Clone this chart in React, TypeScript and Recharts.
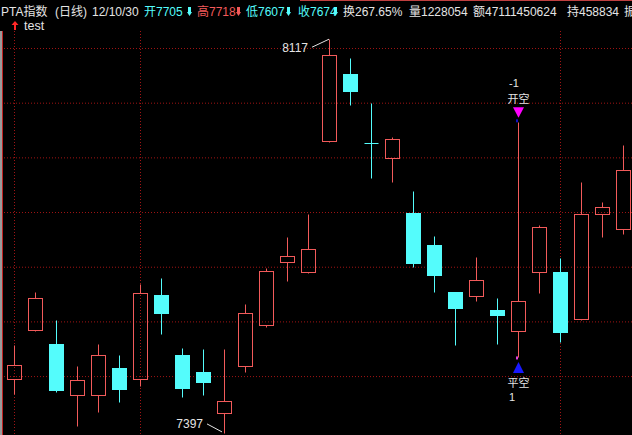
import React from 'react';
import { ComposedChart, Bar, XAxis, YAxis, CartesianGrid, ReferenceDot } from 'recharts';

const days = [
  'd01', 'd02', 'd03', 'd04', 'd05', 'd06', 'd07', 'd08', 'd09', 'd10',
  'd11', 'd12', 'd13', 'd14', 'd15', 'd16', 'd17', 'd18', 'd19', 'd20',
  'd21', 'd22', 'd23', 'd24', 'd25', 'd26', 'd27', 'd28', 'd29', 'd30',
];
const openPrices = [
  7495, 7586, 7559, 7466, 7467, 7515, 7495, 7649, 7539, 7509,
  7433, 7519, 7595, 7709, 7691, 7930, 8053, 7927, 7899, 7799,
  7740, 7654, 7647, 7621, 7583, 7692, 7692, 7605, 7797, 7769,
];
const highPrices = [
  7557, 7654, 7603, 7519, 7559, 7539, 7669, 7680, 7553, 7550,
  7550, 7632, 7698, 7755, 7797, 8117, 8082, 8000, 7939, 7839,
  7758, 7655, 7718, 7643, 7965, 7778, 7716, 7855, 7819, 7923,
];
const lowPrices = [
  7469, 7583, 7471, 7409, 7436, 7453, 7482, 7577, 7462, 7466,
  7397, 7509, 7590, 7674, 7690, 7929, 7996, 7863, 7855, 7700,
  7654, 7557, 7639, 7559, 7535, 7652, 7564, 7604, 7755, 7760,
];
const closePrices = [
  7522, 7643, 7475, 7493, 7539, 7478, 7652, 7617, 7480, 7491,
  7455, 7617, 7694, 7720, 7733, 8088, 8022, 7927, 7934, 7707,
  7685, 7625, 7676, 7612, 7639, 7773, 7581, 7797, 7811, 7877,
];
const gridPrices = [7400, 7500, 7600, 7700, 7800, 7900, 8000, 8100];
const periodLines = ['d01', 'd07', 'd27'];
const signalDay = 'd25';

const RED = '#f25a5a';
const CYAN = '#54fcfc';
const GRID = '#a01414';
const TEXT = '#e4e4e4';
const FONT = '"Liberation Sans", "Noto Sans CJK SC", sans-serif';

const data = days.map((day, i) => ({
  day,
  open: openPrices[i],
  high: highPrices[i],
  low: lowPrices[i],
  close: closePrices[i],
  range: [lowPrices[i], highPrices[i]],
}));

const hiIdx = highPrices.indexOf(Math.max(...highPrices));
const loIdx = lowPrices.indexOf(Math.min(...lowPrices));
const sigIdx = days.indexOf(signalDay);

const snap = (v: number) => Math.round(v) + 0.5;

const Candle = (props: any) => {
  const { x, y, width, height, payload, background } = props;
  const { open, close, high, low, day } = payload;
  const cx = Math.floor(x + width / 2) + 0.5;
  const py = (v: number) => y + ((high - v) / (high - low)) * height;
  const top = snap(py(Math.max(open, close)));
  const bot = snap(py(Math.min(open, close)));
  const yHigh = snap(py(high));
  const yLow = snap(py(low));
  // period line goes behind its own candle
  const period =
    periodLines.includes(day) && background ? (
      <line
        x1={cx}
        x2={cx}
        y1={background.y}
        y2={background.y + background.height}
        stroke={GRID}
        strokeDasharray="1 2"
      />
    ) : null;
  if (close > open) {
    return (
      <g>
        {period}
        <line x1={cx} x2={cx} y1={yHigh} y2={top} stroke={RED} />
        <line x1={cx} x2={cx} y1={bot} y2={yLow} stroke={RED} />
        <rect x={cx - 7} y={top} width={14} height={bot - top} fill="none" stroke={RED} />
      </g>
    );
  }
  if (bot - top < 1) {
    return (
      <g>
        {period}
        <line x1={cx} x2={cx} y1={yHigh} y2={yLow} stroke={CYAN} />
        <line x1={cx - 7} x2={cx + 7} y1={top} y2={top} stroke={CYAN} />
      </g>
    );
  }
  return (
    <g>
      {period}
      <line x1={cx} x2={cx} y1={yHigh} y2={yLow} stroke={CYAN} />
      <rect x={cx - 7.5} y={top - 0.5} width={15} height={bot - top + 1} fill={CYAN} />
    </g>
  );
};

const HighLabel = ({ cx, cy }: any) => (
  <g>
    <line x1={cx - 17.5} y1={cy + 8} x2={cx - 0.5} y2={cy} stroke={TEXT} />
    <text x={cx - 21.5} y={cy + 13} textAnchor="end" fill={TEXT} fontSize={12} fontFamily={FONT}>
      {highPrices[hiIdx]}
    </text>
  </g>
);

const LowLabel = ({ cx, cy }: any) => (
  <g>
    <line x1={cx - 17.5} y1={cy - 9} x2={cx - 2.5} y2={cy - 1} stroke={TEXT} />
    <text x={cx - 21.5} y={cy - 5} textAnchor="end" fill={TEXT} fontSize={12} fontFamily={FONT}>
      {lowPrices[loIdx]}
    </text>
  </g>
);

// 开空 above the high, 平空 below the low
const OpenShort = ({ cx, cy }: any) => (
  <g fontFamily={FONT}>
    <text x={cx - 9.5} y={cy - 35} fontSize={11} fill={TEXT}>-1</text>
    <text x={cx} y={cy - 19.5} fontSize={11} textAnchor="middle" fill={TEXT}>开空</text>
    <polygon points={`${cx - 5.5},${cy - 15} ${cx + 5.5},${cy - 15} ${cx},${cy - 4.5}`} fill="#ff00ff" />
    <rect x={cx - 2.5} y={cy - 3} width={2} height={3} fill="#1010c0" />
  </g>
);

const CloseShort = ({ cx, cy }: any) => (
  <g fontFamily={FONT}>
    <rect x={cx - 2.5} y={cy - 1} width={2} height={3} fill="#e040e0" />
    <polygon points={`${cx},${cy + 4.5} ${cx - 5.5},${cy + 15.5} ${cx + 5.5},${cy + 15.5}`} fill="#1818ff" />
    <text x={cx} y={cy + 29.5} fontSize={11} textAnchor="middle" fill={TEXT}>平空</text>
    <text x={cx - 9.5} y={cy + 43.5} fontSize={11} fill={TEXT}>1</text>
  </g>
);

const Arrow = ({ x, color }: { x: number; color: string }) => (
  <path d={`M${x},7 h3 v5 h1 l-2.5,4 l-2.5,-4 h1 z`} fill={color} />
);

const Header = () => (
  <svg width={632} height={31} style={{ position: 'absolute', left: 0, top: 0 }}>
    <line x1={300} x2={632} y1={0.5} y2={0.5} stroke="#c04040" />
    <g fontFamily={FONT} fontSize={12}>
      <text x={1} y={15.5} fill={TEXT}>PTA指数</text>
      <text x={55} y={15.5} fill={TEXT}>(日线)</text>
      <text x={92} y={15.5} fill={TEXT}>12/10/30</text>
      <text x={144} y={15.5} fill={CYAN}>开7705</text>
      <Arrow x={188} color={CYAN} />
      <text x={197} y={15.5} fill={RED}>高7718</text>
      <Arrow x={237} color={RED} />
      <text x={246} y={15.5} fill={CYAN}>低7607</text>
      <Arrow x={287} color={CYAN} />
      <text x={298} y={15.5} fill={CYAN}>收7674</text>
      <Arrow x={334} color={CYAN} />
      <text x={343} y={15.5} fill={TEXT}>换267.65%</text>
      <text x={409} y={15.5} fill={TEXT}>量1228054</text>
      <text x={473} y={15.5} fill={TEXT}>额47111450624</text>
      <text x={567} y={15.5} fill={TEXT}>持458834</text>
      <text x={624} y={15.5} fill={TEXT}>振</text>
    </g>
    <path d="M15,21 L18.5,25 H16 V30 H14 V25 H11.5 Z" fill="#ff2828" />
    <text x={24} y={29.5} fill={TEXT} fontSize={12.5} fontFamily={FONT}>test</text>
  </svg>
);

const App: React.FC = () => {
  return (
    <div style={{ position: 'relative', width: 632, height: 435, background: '#000', overflow: 'hidden' }}>
      <style>{'html,body{margin:0;padding:0;background:#000;overflow:hidden}'}</style>
      <ComposedChart
        width={634}
        height={435}
        data={data}
        margin={{ top: 31, right: 0, bottom: 1, left: 4 }}
        barCategoryGap={0}
        barGap={0}
      >
        <CartesianGrid vertical={false} horizontalValues={gridPrices} stroke={GRID} strokeDasharray="1 2" />
        <XAxis dataKey="day" hide />
        <YAxis hide domain={[7395, 8132]} allowDataOverflow ticks={gridPrices} />
        <Bar dataKey="range" shape={Candle} isAnimationActive={false} />
        <ReferenceDot x={days[hiIdx]} y={highPrices[hiIdx]} shape={HighLabel} />
        <ReferenceDot x={days[loIdx]} y={lowPrices[loIdx]} shape={LowLabel} />
        <ReferenceDot x={signalDay} y={highPrices[sigIdx]} shape={OpenShort} />
        <ReferenceDot x={signalDay} y={lowPrices[sigIdx]} shape={CloseShort} />
      </ComposedChart>
      <Header />
      <div style={{ position: 'absolute', left: 0, top: 31, width: 2, height: 404, background: '#9a9a9a' }} />
      <div style={{ position: 'absolute', left: 2, top: 31, width: 1, height: 404, background: '#c02020' }} />
    </div>
  );
};

export default App;
